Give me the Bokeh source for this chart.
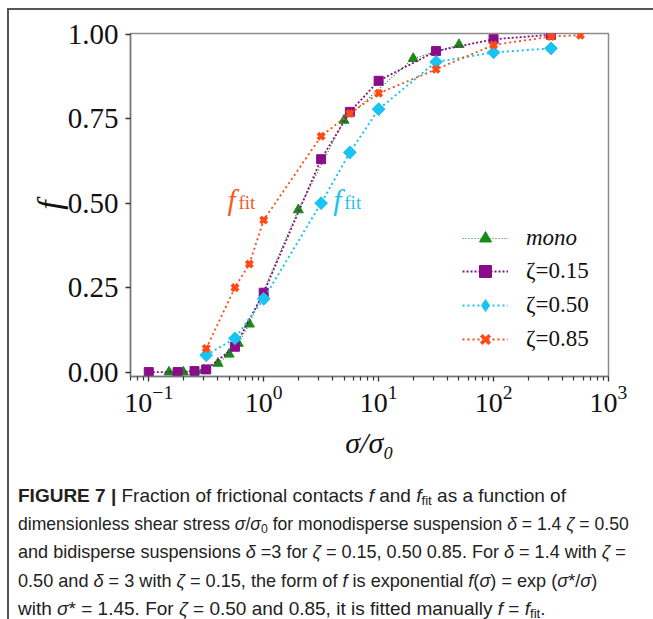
import numpy as np
from bokeh.plotting import figure
from bokeh.models import (Label, Legend, LegendItem, FixedTicker, NumeralTickFormatter, Div)
from bokeh.layouts import column
from bokeh.embed import file_html
from bokeh.resources import INLINE

# ---------------- data ----------------
mono_x = [0.15, 0.2, 0.3, 0.4, 0.5, 0.6, 0.75, 2.0, 5.0, 20.0, 50.0]
mono_y = [0.0, 0.0, 0.005, 0.026, 0.053, 0.085, 0.142, 0.48, 0.745, 0.928, 0.969]

z15_x = [0.1, 0.178, 0.25, 0.316, 0.562, 1.0, 3.16, 5.62, 10.0, 31.6, 100.0, 316.0]
z15_y = [0.0, 0.0, 0.003, 0.008, 0.075, 0.235, 0.63, 0.77, 0.862, 0.95, 0.985, 0.998]

z50_x = [0.316, 0.562, 1.0, 3.16, 5.62, 10.0, 31.6, 100.0, 316.0]
z50_y = [0.05, 0.10, 0.217, 0.50, 0.65, 0.778, 0.918, 0.946, 0.958]

z85_x = [0.316, 0.562, 0.75, 1.0, 3.16, 5.62, 10.0, 31.6, 100.0, 316.0, 570.0]
z85_y = [0.07, 0.25, 0.32, 0.45, 0.698, 0.765, 0.825, 0.896, 0.968, 0.993, 0.997]

series_labels = ["mono", "ζ=0.15", "ζ=0.50", "ζ=0.85"]
x_major_ticks = [0.1, 1.0, 10.0, 100.0, 1000.0]
y_ticks = [0.0, 0.25, 0.5, 0.75, 1.0]
fit_label_x = [0.483, 4.03]   # where the "f_fit" annotations sit (data units)
fit_label_y = 0.51

SERIF = "Liberation Serif"
GREEN = "#178a17"
PURPLE = "#8a0c8a"
CYAN = "#19c3f2"
ORANGE = "#ff4a14"

p = figure(width=644, height=460, x_axis_type="log",
           x_range=(10 ** -1.159, 1e3), y_range=(-0.013, 1.002),
           output_backend="svg", toolbar_location=None,
           min_border_left=121, min_border_right=45,
           min_border_top=23, min_border_bottom=94)
p.grid.visible = False
p.outline_line_color = "#8c8c8c"
p.outline_line_width = 1.5
p.background_fill_color = "white"
p.border_fill_color = "white"

minor = [m * 10.0 ** k for k in range(-2, 3) for m in range(2, 10)]
p.xaxis[0].ticker = FixedTicker(ticks=x_major_ticks, minor_ticks=minor)
p.yaxis[0].ticker = FixedTicker(ticks=y_ticks)
p.yaxis[0].formatter = NumeralTickFormatter(format="0.00")

for ax in (p.xaxis[0], p.yaxis[0]):
    ax.axis_line_color = "#777777"
    ax.axis_line_width = 1.5
    ax.major_tick_line_color = "#333333"
    ax.major_tick_line_width = 1.3
    ax.major_tick_out = 5
    ax.major_tick_in = 0
    ax.minor_tick_line_color = "#333333"
    ax.minor_tick_line_width = 1.2
    ax.minor_tick_out = 4
    ax.minor_tick_in = 0
    ax.major_label_text_font = SERIF
    ax.major_label_text_color = "#111111"
    ax.axis_label_text_font = SERIF
    ax.axis_label_text_font_style = "italic"
    ax.axis_label_text_color = "#111111"
p.yaxis[0].major_label_text_font_size = "29px"
p.xaxis[0].major_label_text_font_size = "28px"
p.yaxis[0].minor_tick_line_color = None
p.yaxis[0].major_label_standoff = 7
p.xaxis[0].major_label_standoff = 4

p.yaxis[0].axis_label = "f"
p.yaxis[0].axis_label_text_font_size = "34px"
p.yaxis[0].axis_label_standoff = -3
p.xaxis[0].axis_label = "σ/σ₀"
p.xaxis[0].axis_label_text_font_size = "30px"
p.xaxis[0].axis_label_standoff = 11

# ---------------- series ----------------
l0 = p.line(mono_x, mono_y, line_color=GREEN, line_width=1.2, line_dash="1 2")
s0 = p.scatter(mono_x, mono_y, marker="triangle", size=10, fill_color=GREEN, line_color=GREEN)

l1 = p.line(z15_x, z15_y, line_color=PURPLE, line_width=1.8, line_dash="2 2")
s1 = p.scatter(z15_x, z15_y, marker="square", size=9, fill_color=PURPLE, line_color=PURPLE)

l2 = p.line(z50_x, z50_y, line_color=CYAN, line_width=2, line_dash="2 3")
# diamond glyph (used as the legend key) fully covered by the rotated square drawn on top
s2_key = p.scatter(z50_x, z50_y, marker="diamond", size=12, fill_color=CYAN, line_color=CYAN)
s2 = p.scatter(z50_x, z50_y, marker="square", angle=np.pi / 4, size=9,
               fill_color=CYAN, line_color=CYAN)

l3 = p.line(z85_x, z85_y, line_color=ORANGE, line_width=1.8, line_dash="2 3")
s3 = p.scatter(z85_x, z85_y, marker="x", size=9, line_color=ORANGE, line_width=3.8)

# ---------------- legends ----------------
common = dict(border_line_color=None, background_fill_alpha=0, padding=0, margin=0,
              spacing=4, glyph_width=46, glyph_height=30, label_height=30,
              label_standoff=18, label_text_font=SERIF, label_text_font_size="23px",
              label_text_color="#111111")
legA = Legend(items=[LegendItem(label=series_labels[0], renderers=[l0, s0])],
              location=(332, 123), label_text_font_style="italic", **common)
legB = Legend(items=[LegendItem(label=series_labels[1], renderers=[l1, s1]),
                     LegendItem(label=series_labels[2], renderers=[l2, s2_key]),
                     LegendItem(label=series_labels[3], renderers=[l3, s3])],
              location=(332, 22), **common)
p.add_layout(legA)
p.add_layout(legB)

# ---------------- f_fit annotations ----------------
for xv, col in zip(fit_label_x, ["#f25a2a", "#1fc1ea"]):
    p.add_layout(Label(x=xv, y=fit_label_y, text="f", text_font=SERIF,
                       text_font_style="italic", text_font_size="30px",
                       text_color=col, text_baseline="alphabetic"))
    p.add_layout(Label(x=xv, y=fit_label_y, x_offset=11, y_offset=-3, text="fit",
                       text_font=SERIF, text_font_size="19px",
                       text_color=col, text_baseline="alphabetic"))

# ---------------- caption ----------------
sub = '<sub style="font-size:70%;line-height:0;vertical-align:-0.2em">'


def line(html, sx):
    return ('<div style="white-space:nowrap;height:28.2px;"><span style="display:inline-block;'
            'transform:scaleX(%.3f);transform-origin:0 50%%;">%s</span></div>' % (sx, html))


caption = (
    '<div style="font-family:\'Liberation Sans\',sans-serif;font-size:19px;line-height:28.2px;'
    'color:#222;padding:12px 0 0 9px;">'
    + line('<b>FIGURE 7 |</b> Fraction of frictional contacts <i>f</i> and <i>f</i>' + sub
           + 'fit</sub> as a function of', 1.0)
    + line('dimensionless shear stress <i>σ</i>/<i>σ</i>' + sub
           + '0</sub> for monodisperse suspension <i>δ</i> = 1.4 <i>ζ</i> = 0.50', 0.925)
    + line('and bidisperse suspensions <i>δ</i> =3 for <i>ζ</i> = 0.15, 0.50 0.85. For '
           '<i>δ</i> = 1.4 with <i>ζ</i> =', 0.95)
    + line('0.50 and <i>δ</i> = 3 with <i>ζ</i> = 0.15, the form of <i>f</i> is exponential '
           '<i>f</i>(<i>σ</i>) = exp (<i>σ</i>*/<i>σ</i>)', 0.953)
    + line('with <i>σ</i>* = 1.45. For <i>ζ</i> = 0.50 and 0.85, it is fitted manually '
           '<i>f</i> = <i>f</i>' + sub + 'fit</sub>.', 1.0)
    + '</div>'
)
div = Div(text=caption, width=644, height=149, margin=0)

layout = column(p, div, margin=(8, 0, 0, 7), spacing=0,
                styles={"border-left": "2px solid #555", "border-top": "2px solid #555",
                        "background": "white"})

open("out.html", "w").write(file_html(layout, INLINE))
